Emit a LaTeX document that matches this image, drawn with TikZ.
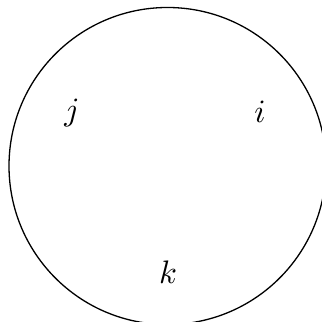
\documentclass[tikz,border=0pt]{standalone}
\begin{document}
\begin{tikzpicture}[x=0.3075pt,y=-0.3075pt,lbl/.style={inner sep=0pt,anchor=base}]
\useasboundingbox (0,0) rectangle (322,322);
\begin{scope}
\clip (0,0) rectangle (322,322);
\node[circle,draw,minimum size=317*0.3075pt,inner sep=0pt,line width=0.4pt] (c) at (167.5,166) {};
\end{scope}
\node[lbl] (j) at (72,121) {$j$};
\node[lbl] (i) at (260,123) {$i$};
\node[lbl] (k) at (168,283) {$k$};
\end{tikzpicture}
\end{document}
